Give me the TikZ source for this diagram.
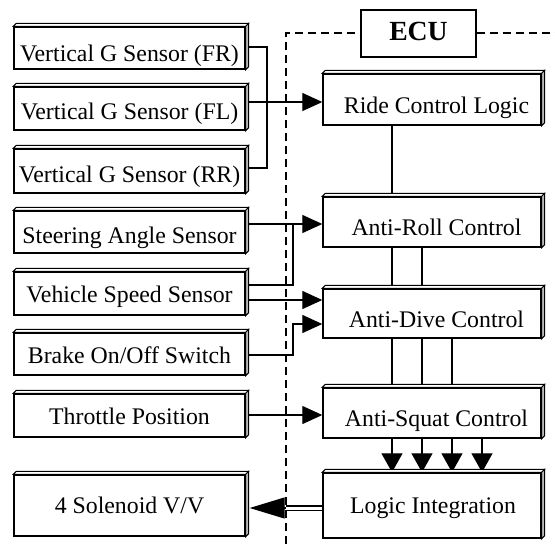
\documentclass[tikz,border=0pt]{standalone}
\usepackage{fontspec}
\setmainfont{Liberation Serif}
\usetikzlibrary{arrows.meta}
\begin{document}
\begin{tikzpicture}[x=1pt,y=-1pt,
  box/.style={draw, line width=1.4pt, fill=white, inner sep=0pt, text height=22pt, text depth=0pt,
    font=\fontsize{23.8pt}{28pt}\selectfont},
  lbox/.style={box, minimum width=231pt},
  rbox/.style={box, minimum width=218pt, text height=27pt},
  conn/.style={line width=1.3pt},
  arr/.style={conn, -{Triangle[length=20pt,width=18pt]}},
  darr/.style={conn, -{Triangle[length=19pt,width=21pt]}},
  bigarr/.style={conn, -{Triangle[length=35pt,width=21pt]}},
  face/.style={line width=1pt, fill=white},
  side/.style={line width=1pt, fill=gray!55},
  eculine/.style={line width=1.3pt, dash pattern=on 8pt off 5pt}]
\useasboundingbox (0,0) rectangle (555,544);

% ECU frame
\node[draw, line width=1.4pt, minimum width=115pt, minimum height=47pt, inner sep=0pt,
  text height=13pt, text depth=0pt, font=\fontsize{27.7pt}{32pt}\selectfont\bfseries] (ECU) at (418.5,33.5) {ECU};
\draw[eculine] (286,544) -- (286,33) -- (ECU.west |- 0,33);
\draw[eculine] (ECU.east |- 0,33) -- (555,33);

% left boxes
\node[lbox, minimum height=42pt, text height=27pt] (FR) at (129.5,48) {Vertical G Sensor (FR)};
\node[lbox, minimum height=43pt] (FL) at (129.5,108.5) {Vertical G Sensor (FL)};
\node[lbox, minimum height=44pt] (RR) at (129.5,171) {Vertical G Sensor (RR)};
\node[lbox, minimum height=42pt] (Steer) at (129.5,232) {Steering Angle Sensor};
\node[lbox, minimum height=43pt, text height=18pt] (Veh) at (129.5,293.5) {Vehicle Speed Sensor};
\node[lbox, minimum height=42pt, text height=18pt] (Brake) at (129.5,354) {Brake On/Off Switch};
\node[lbox, minimum height=43pt, text height=18pt] (Thr) at (129.5,415.5) {Throttle Position};
\node[lbox, minimum height=61pt, text height=15pt] (Sol) at (129.5,505.5) {4 Solenoid V/V};

% right boxes
\node[rbox, minimum height=51pt] (Ride) at (432,99.5) {\hspace*{9pt}Ride Control Logic};
\node[rbox, minimum height=50pt] (AR) at (432,222) {\hspace*{9pt}Anti-Roll Control};
\node[rbox, minimum height=49pt] (AD) at (432,313.5) {\hspace*{9pt}Anti-Dive Control};
\node[rbox, minimum height=50pt] (AS) at (432,413) {\hspace*{9pt}Anti-Squat Control};
\node[rbox, minimum height=65pt, text height=15pt] (Logic) at (432,505.5) {\hspace*{2pt}Logic Integration};

% connectors
\draw[conn] (FR.east |- 0,47) -- (267,47) -- (267,168) -- (RR.east |- 0,168);
\draw[arr] (FL.east |- 0,102) -- (Ride.west |- 0,102);
\draw[conn] (Ride.south -| 392,0) -- (AR.north -| 392,0);
\draw[arr] (Steer.east |- 0,224) -- (AR.west |- 0,224);
\draw[conn] (Veh.east |- 0,285) -- (293,285) -- (293,224);
\draw[arr] (Veh.east |- 0,300) -- (AD.west |- 0,300);
\draw[arr] (Brake.east |- 0,355) -- (293,355) -- (293,324) -- (AD.west |- 0,324);
\draw[arr] (Thr.east |- 0,415) -- (AS.west |- 0,415);
\foreach \x in {392,422} \draw[conn] (AR.south -| \x,0) -- (AD.north -| \x,0);
\foreach \x in {392,422,452} \draw[conn] (AD.south -| \x,0) -- (AS.north -| \x,0);
\foreach \x in {392,422,452,482} \draw[darr] (AS.south -| \x,0) -- (Logic.north -| \x,0);
\coordinate (dh) at (286,508);
\draw[conn, double, double distance=3pt] (Logic.west |- dh) -- (dh);
\draw[bigarr] (dh) -- ([xshift=4pt]Sol.east |- dh);

% 3D faces
\foreach \n in {FR,FL,RR,Steer,Veh,Brake,Thr,Sol,Ride,AR,AD,AS,Logic} {
  \filldraw[face] (\n.north west) -- ++(3,-3) -- ([shift={(3,-3)}]\n.north east) -- (\n.north east) -- cycle;
  \filldraw[side] (\n.north east) -- ++(3,-3) -- ([shift={(3,-3)}]\n.south east) -- (\n.south east) -- cycle;
}
\end{tikzpicture}
\end{document}
